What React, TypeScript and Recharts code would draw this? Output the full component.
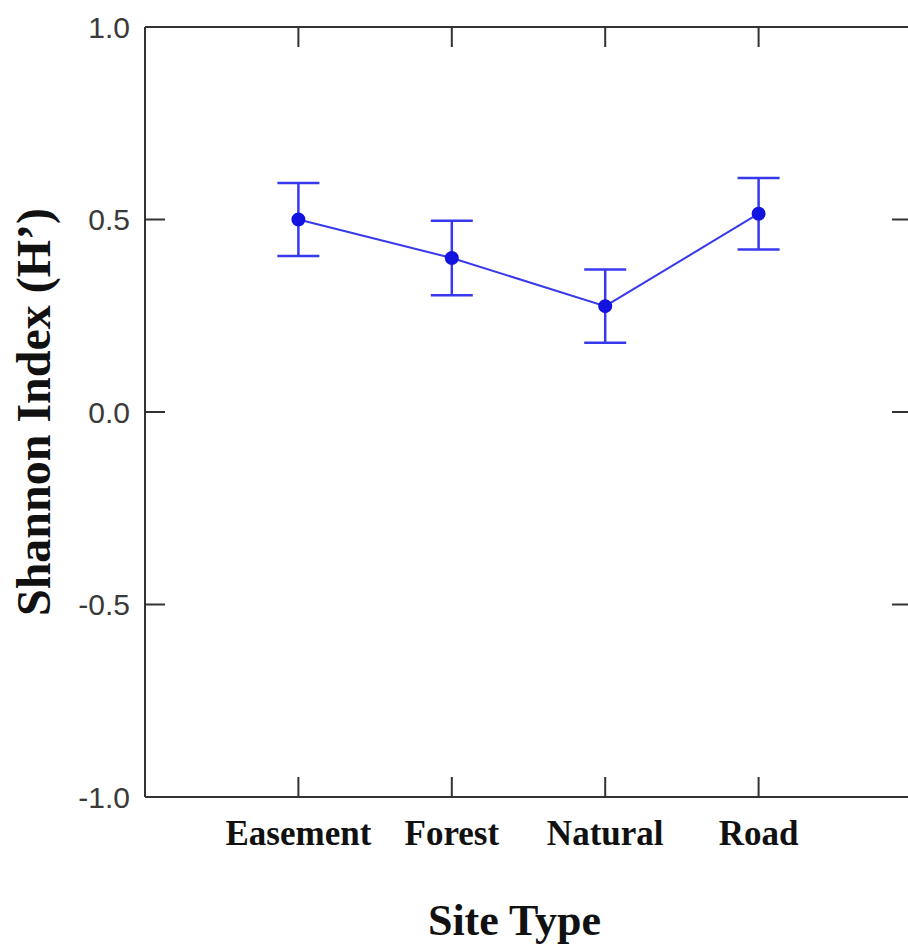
import React from 'react'
import {
  LineChart, Line, XAxis, YAxis, ErrorBar,
} from 'recharts'

const categories = ['Easement', 'Forest', 'Natural', 'Road']
const positions = [1, 2, 3, 4]
const shannonMean = [0.5, 0.4, 0.275, 0.515]
const shannonErr = [0.095, 0.097, 0.095, 0.093]
const yTicks = [-1, -0.5, 0, 0.5, 1]

const data = categories.map((name, i) => ({
  name,
  pos: positions[i],
  h: shannonMean[i],
  err: shannonErr[i],
}))

const AXIS = '#333'
const BLUE = '#3838ee'
const SERIF = '"Liberation Serif", "Times New Roman", serif'

const YTitle = ({ viewBox }: any) => {
  const cx = viewBox.x + 33
  const cy = viewBox.y + viewBox.height / 2
  return (
    <text
      x={cx}
      y={cy}
      transform={`rotate(-90 ${cx} ${cy})`}
      textAnchor="middle"
      dominantBaseline="central"
      fontFamily={SERIF}
      fontWeight="bold"
      fontSize={48}
      fill="#111"
    >
      Shannon Index (H’)
    </text>
  )
}

const XTitle = ({ viewBox }: any) => (
  <text
    x={viewBox.x + viewBox.width / 2 - 14}
    y={viewBox.y + 138}
    textAnchor="middle"
    fontFamily={SERIF}
    fontWeight="bold"
    fontSize={44}
    fill="#111"
  >
    Site Type
  </text>
)

export default function App() {
  return (
    <div style={{ position: 'absolute', left: 0, top: 0, width: 908, height: 950, overflow: 'hidden', background: '#fff' }}>
      <LineChart width={916} height={950} data={data} margin={{ top: 25, right: 2, bottom: 0, left: 0 }}>
        <XAxis
          dataKey="pos"
          type="number"
          domain={[0, 5]}
          ticks={positions}
          tickFormatter={(v: number) => categories[v - 1] ?? ''}
          height={153}
          stroke={AXIS}
          strokeWidth={2}
          tickSize={-20}
          tickMargin={43}
          tick={{ fontFamily: SERIF, fontWeight: 'bold', fontSize: 35, fill: '#111' }}
          label={<XTitle />}
        />
        <XAxis
          xAxisId="top"
          orientation="top"
          dataKey="pos"
          type="number"
          domain={[0, 5]}
          allowDataOverflow
          ticks={positions}
          tickFormatter={() => ''}
          height={2}
          stroke={AXIS}
          strokeWidth={2}
          tickSize={-20}
          tickMargin={0}
        />
        <YAxis
          type="number"
          domain={[-1, 1]}
          ticks={yTicks}
          tickFormatter={(v: number) => v.toFixed(1)}
          width={145}
          stroke={AXIS}
          strokeWidth={2}
          tickSize={-20}
          tickMargin={35}
          tick={{ fontFamily: '"Liberation Sans", Arial, sans-serif', fontSize: 30, fill: '#3a3a3a' }}
          label={<YTitle />}
        />
        <YAxis
          yAxisId="right"
          orientation="right"
          type="number"
          domain={[-1, 1]}
          allowDataOverflow
          ticks={yTicks}
          tickFormatter={() => ''}
          width={2}
          stroke={AXIS}
          strokeWidth={2}
          tickSize={-20}
          tickMargin={0}
        />
        <Line
          dataKey="h"
          stroke={BLUE}
          strokeWidth={2}
          dot={{ r: 6, fill: '#1414e0', stroke: '#1414e0' }}
          isAnimationActive={false}
        >
          <ErrorBar dataKey="err" direction="y" width={21} stroke={BLUE} strokeWidth={2.5} />
        </Line>
      </LineChart>
    </div>
  )
}
